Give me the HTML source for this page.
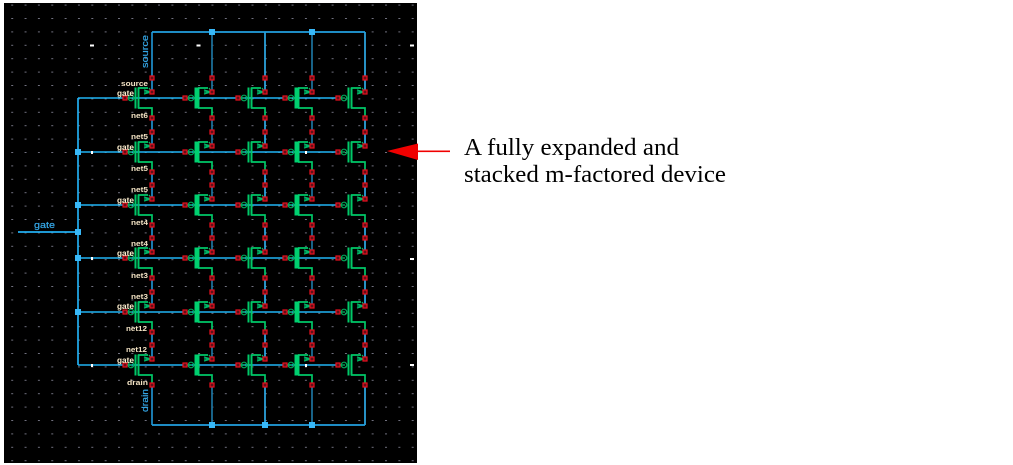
<!DOCTYPE html>
<html><head><meta charset="utf-8"><style>
html,body{margin:0;padding:0;background:#fff;width:1013px;height:465px;overflow:hidden}
svg{display:block}
.l{font:bold 7.5px "Liberation Sans",sans-serif;fill:#f3e3c4}
.g{font:bold 8px "Liberation Sans",sans-serif;fill:#fff0d0}
.b{font:9.500px "Liberation Sans",sans-serif;fill:#35a8e8;stroke:#35a8e8;stroke-width:.2}
.t{font:24px "Liberation Serif",serif;fill:#000}
</style></head><body>
<svg width="1013" height="465" viewBox="0 0 1013 465" xmlns="http://www.w3.org/2000/svg">
<defs>
<pattern id="g" x="11.2" y="4.6" width="13.35" height="13.4" patternUnits="userSpaceOnUse"><rect width="2" height="1" fill="#70707e"/></pattern>
<g id="p"><rect x="-2" y="-2" width="4" height="4" fill="#601018" stroke="#e81020" stroke-width="1.200"/></g>
<g id="base">
<path d="M-27 0H-20" stroke="#00b060" stroke-width="1.300" fill="none"/>
<circle cx="-21" cy="0" r="2.800" fill="none" stroke="#00a858" stroke-width="1.200"/>
<path d="M-14 -10H-4M-14 10H0V20" stroke="#00c868" stroke-width="1.700" fill="none"/>
<path d="M-8 -8L-1 -6L-8 -4M-8 -6H0M-3 -10L0 -6" stroke="#00b868" stroke-width="1.200" fill="none"/>
<use href="#p" x="0" y="-20"/><use href="#p" x="0" y="-6"/><use href="#p" x="0" y="20"/><use href="#p" x="-27" y="0"/>
</g>
<g id="k"><use href="#base"/><rect x="-17.5" y="-10.5" width="5" height="21" fill="#00d070"/></g>
<g id="n"><use href="#base"/><rect x="-17.5" y="-10.5" width="2" height="21" fill="#00c868"/><rect x="-14.5" y="-10.5" width="2" height="21" fill="#00c868"/></g>
<g id="c"><use href="#k" x="0" y="98"/><use href="#k" x="0" y="152"/><use href="#k" x="0" y="205"/><use href="#k" x="0" y="258"/><use href="#k" x="0" y="312"/><use href="#k" x="0" y="365"/></g>
<g id="d"><use href="#n" x="0" y="98"/><use href="#n" x="0" y="152"/><use href="#n" x="0" y="205"/><use href="#n" x="0" y="258"/><use href="#n" x="0" y="312"/><use href="#n" x="0" y="365"/></g>
<g id="w"><path d="M0 32V92M0 118V146M0 172V199M0 225V252M0 278V306M0 332V359M0 385V425" fill="none" stroke-width="1.700"/></g>
<rect id="s" x="-3" y="-3" width="6" height="6" fill="#38b8f8"/>
</defs>
<rect x="0" y="0" width="1013" height="465" fill="#fff"/>
<rect x="4" y="3" width="413" height="460" fill="#000"/>
<rect x="4" y="3" width="413" height="460" fill="url(#g)"/>
<g fill="#fff"><rect x="90" y="44.500" width="4" height="2"/><rect x="196.500" y="44.500" width="4" height="2"/><rect x="410" y="44.500" width="4" height="2"/><rect x="410" y="258" width="4" height="2"/><rect x="410" y="364" width="4" height="2"/></g>

<use href="#w" x="152" stroke="#1f90cc"/>
<use href="#w" x="212" stroke="#1c749f"/>
<use href="#w" x="265" stroke="#2eaae6"/>
<use href="#w" x="312" stroke="#1c749f"/>
<use href="#w" x="365" stroke="#2eaae6"/>
<path d="M152 32H365M152 425H365" stroke="#22a0e0" stroke-width="1.700" fill="none"/>
<path d="M78 98V365M18 232H78" stroke="#22aef0" stroke-width="1.700" fill="none"/>
<path d="M78 98H342M78 152H342M78 205H342M78 258H342M78 312H342M78 365H342" stroke="#20b4f4" stroke-width="1.500" fill="none"/>

<use href="#d" x="152"/>
<use href="#c" x="212"/>
<use href="#d" x="265"/>
<use href="#c" x="312"/>
<use href="#d" x="365"/>

<use href="#s" x="212" y="32"/><use href="#s" x="312" y="32"/>
<use href="#s" x="78" y="152"/><use href="#s" x="78" y="205"/><use href="#s" x="78" y="232"/><use href="#s" x="78" y="258"/><use href="#s" x="78" y="312"/>
<use href="#s" x="212" y="425"/><use href="#s" x="265" y="425"/><use href="#s" x="312" y="425"/>

<g fill="#fff"><rect x="91" y="151" width="2" height="3"/><rect x="91" y="257" width="2" height="3"/><rect x="91" y="364" width="2" height="3"/><rect x="305" y="151" width="2" height="3"/><rect x="305" y="364" width="2" height="3"/></g>

<text class="l" x="121" y="86" textLength="27" lengthAdjust="spacingAndGlyphs">source</text>
<text class="g" x="117" y="96" textLength="17" lengthAdjust="spacingAndGlyphs">gate</text>
<text class="l" x="131" y="118" textLength="17" lengthAdjust="spacingAndGlyphs">net6</text>
<text class="l" x="131" y="139" textLength="17" lengthAdjust="spacingAndGlyphs">net5</text>
<text class="g" x="117" y="150" textLength="17" lengthAdjust="spacingAndGlyphs">gate</text>
<text class="l" x="131" y="171" textLength="17" lengthAdjust="spacingAndGlyphs">net5</text>
<text class="l" x="131" y="192" textLength="17" lengthAdjust="spacingAndGlyphs">net5</text>
<text class="g" x="117" y="203" textLength="17" lengthAdjust="spacingAndGlyphs">gate</text>
<text class="l" x="131" y="225" textLength="17" lengthAdjust="spacingAndGlyphs">net4</text>
<text class="l" x="131" y="246" textLength="17" lengthAdjust="spacingAndGlyphs">net4</text>
<text class="g" x="117" y="256" textLength="17" lengthAdjust="spacingAndGlyphs">gate</text>
<text class="l" x="131" y="278" textLength="17" lengthAdjust="spacingAndGlyphs">net3</text>
<text class="l" x="131" y="299" textLength="17" lengthAdjust="spacingAndGlyphs">net3</text>
<text class="g" x="117" y="309" textLength="17" lengthAdjust="spacingAndGlyphs">gate</text>
<text class="l" x="126" y="331" textLength="21" lengthAdjust="spacingAndGlyphs">net12</text>
<text class="l" x="126" y="352" textLength="21" lengthAdjust="spacingAndGlyphs">net12</text>
<text class="g" x="117" y="363" textLength="17" lengthAdjust="spacingAndGlyphs">gate</text>
<text class="l" x="127" y="385" textLength="21" lengthAdjust="spacingAndGlyphs">drain</text>

<text class="b" x="34" y="228" textLength="21" lengthAdjust="spacingAndGlyphs">gate</text>
<text class="b" transform="translate(148,68) rotate(-90)" textLength="33" lengthAdjust="spacingAndGlyphs">source</text>
<text class="b" transform="translate(148,412) rotate(-90)" textLength="23" lengthAdjust="spacingAndGlyphs">drain</text>

<path d="M387 151L418 143.500V160Z" fill="#f00000"/>
<rect x="418" y="150.500" width="32" height="1.600" fill="#f00000"/>
<text class="t" x="464" y="155" textLength="215" lengthAdjust="spacingAndGlyphs">A fully expanded and</text>
<text class="t" x="464" y="182" textLength="262" lengthAdjust="spacingAndGlyphs">stacked m-factored device</text>
</svg>
</body></html>
